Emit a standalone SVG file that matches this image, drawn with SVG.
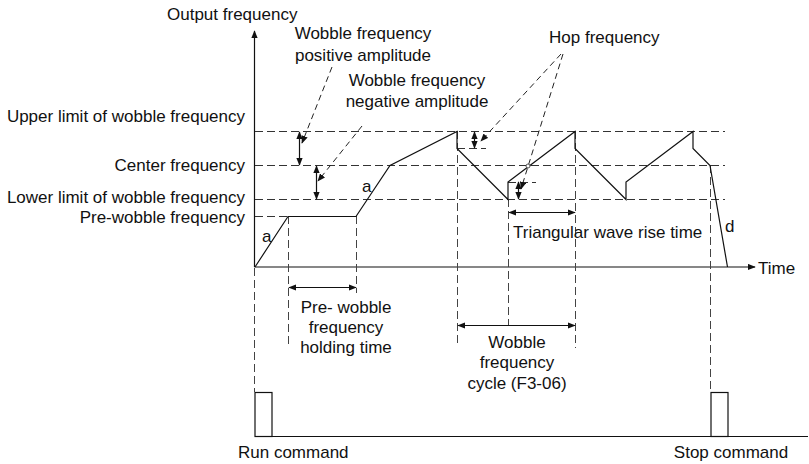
<svg xmlns="http://www.w3.org/2000/svg" width="809" height="464" viewBox="0 0 809 464">
<defs>
<style>
text{font-family:"Liberation Sans",Arial,sans-serif;font-size:17px;fill:#111}
.mid{text-anchor:middle}
.end{text-anchor:end}
.solid{stroke:#111;stroke-width:1.2;fill:none}
.dash{stroke:#333;stroke-width:1;fill:none;stroke-dasharray:8 4}
.vdash{stroke:#444;stroke-width:1;fill:none;stroke-dasharray:8 4}
.lead{stroke:#222;stroke-width:1;fill:none;stroke-dasharray:6 4}
.arr{stroke:#111;stroke-width:1.2;fill:none;marker-start:url(#ah);marker-end:url(#ah)}
</style>
<marker id="ah" viewBox="0 0 10 8" refX="9" refY="4" markerWidth="8" markerHeight="7" markerUnits="userSpaceOnUse" orient="auto-start-reverse">
<path d="M0,0 L10,4 L0,8 z" fill="#111"/>
</marker>
<marker id="ahe" viewBox="0 0 10 8" refX="9" refY="4" markerWidth="8" markerHeight="7" markerUnits="userSpaceOnUse" orient="auto">
<path d="M0,0 L10,4 L0,8 z" fill="#111"/>
</marker>
</defs>
<rect width="809" height="464" fill="#fff"/>

<g id="axes">
<line x1="254.5" y1="267" x2="254.5" y2="31" class="solid" marker-end="url(#ahe)"/>
<line x1="254.5" y1="267" x2="755" y2="267" class="solid" marker-end="url(#ahe)"/>
<text x="167" y="20">Output frequency</text>
<text x="758" y="274">Time</text>
</g>

<g id="levels">
<line x1="255" y1="131.5" x2="725" y2="131.5" class="dash"/>
<line x1="255" y1="165.5" x2="725" y2="165.5" class="dash"/>
<line x1="255" y1="199.5" x2="725" y2="199.5" class="dash"/>
<line x1="255" y1="216.5" x2="288" y2="216.5" class="dash"/>
<line x1="457" y1="148.5" x2="486" y2="148.5" class="dash"/>
<line x1="508" y1="182.5" x2="536" y2="182.5" class="dash"/>
<text class="end" x="245" y="122">Upper limit of wobble frequency</text>
<text class="end" x="245" y="171">Center frequency</text>
<text class="end" x="245" y="203">Lower limit of wobble frequency</text>
<text class="end" x="245" y="223">Pre-wobble frequency</text>
</g>

<g id="verticals">
<line x1="254.5" y1="268" x2="254.5" y2="392" class="vdash"/>
<line x1="288.5" y1="216" x2="288.5" y2="347" class="vdash"/>
<line x1="356.5" y1="216" x2="356.5" y2="293" class="vdash"/>
<line x1="457.5" y1="131" x2="457.5" y2="347" class="vdash"/>
<line x1="508.5" y1="199" x2="508.5" y2="325" class="vdash"/>
<line x1="575.5" y1="131" x2="575.5" y2="348" class="vdash"/>
<line x1="710.5" y1="165" x2="710.5" y2="392" class="vdash"/>
</g>

<g id="curve">
<polyline class="solid" points="255,267 288,216.5 356,216.5 390,165.5 457,131.5 457,148.5 508,199.5 508,182 575,131.5 575,148.5 626,199.5 626,182 693,131.5 693,148.5 710,165.5 727.5,267"/>
<text x="262" y="242">a</text>
<text x="362" y="192">a</text>
<text x="725" y="232">d</text>
</g>

<g id="amplitudes">
<line x1="299.5" y1="132" x2="299.5" y2="165" class="arr"/>
<line x1="316.5" y1="166" x2="316.5" y2="199" class="arr"/>
<line x1="474.5" y1="132" x2="474.5" y2="148" class="arr"/>
<line x1="518.5" y1="182" x2="518.5" y2="199" class="arr"/>
<text class="mid" x="363" y="39">Wobble frequency</text>
<text class="mid" x="363" y="61">positive amplitude</text>
<text class="mid" x="417" y="86">Wobble frequency</text>
<text class="mid" x="417" y="107">negative amplitude</text>
<text x="549" y="43">Hop frequency</text>
<line x1="332" y1="67" x2="302" y2="143" class="lead" marker-end="url(#ahe)"/>
<line x1="362" y1="126" x2="318" y2="181" class="lead" marker-end="url(#ahe)"/>
<line x1="561" y1="54" x2="481" y2="141" class="lead" marker-end="url(#ahe)"/>
<line x1="563" y1="54" x2="521" y2="189" class="lead" marker-end="url(#ahe)"/>
<circle cx="528" cy="166" r="2" fill="#fff" stroke="#333" stroke-width="0.8"/>
</g>

<g id="times">
<line x1="289" y1="287.5" x2="356" y2="287.5" class="arr"/>
<line x1="509" y1="212.5" x2="575" y2="212.5" class="arr"/>
<line x1="458" y1="325.5" x2="575" y2="325.5" class="arr"/>
<text class="mid" x="346" y="313">Pre- wobble</text>
<text class="mid" x="346" y="333">frequency</text>
<text class="mid" x="346" y="353">holding time</text>
<text x="513" y="238">Triangular wave rise time</text>
<text class="mid" x="517" y="348">Wobble</text>
<text class="mid" x="517" y="368">frequency</text>
<text class="mid" x="517" y="389">cycle (F3-06)</text>
</g>

<g id="commands">
<line x1="255" y1="436.5" x2="808" y2="436.5" class="solid"/>
<rect x="255" y="392.5" width="17" height="44" class="solid"/>
<rect x="711" y="392.5" width="17" height="44" class="solid"/>
<text x="238" y="458">Run command</text>
<text class="mid" x="731" y="458">Stop command</text>
</g>
</svg>
